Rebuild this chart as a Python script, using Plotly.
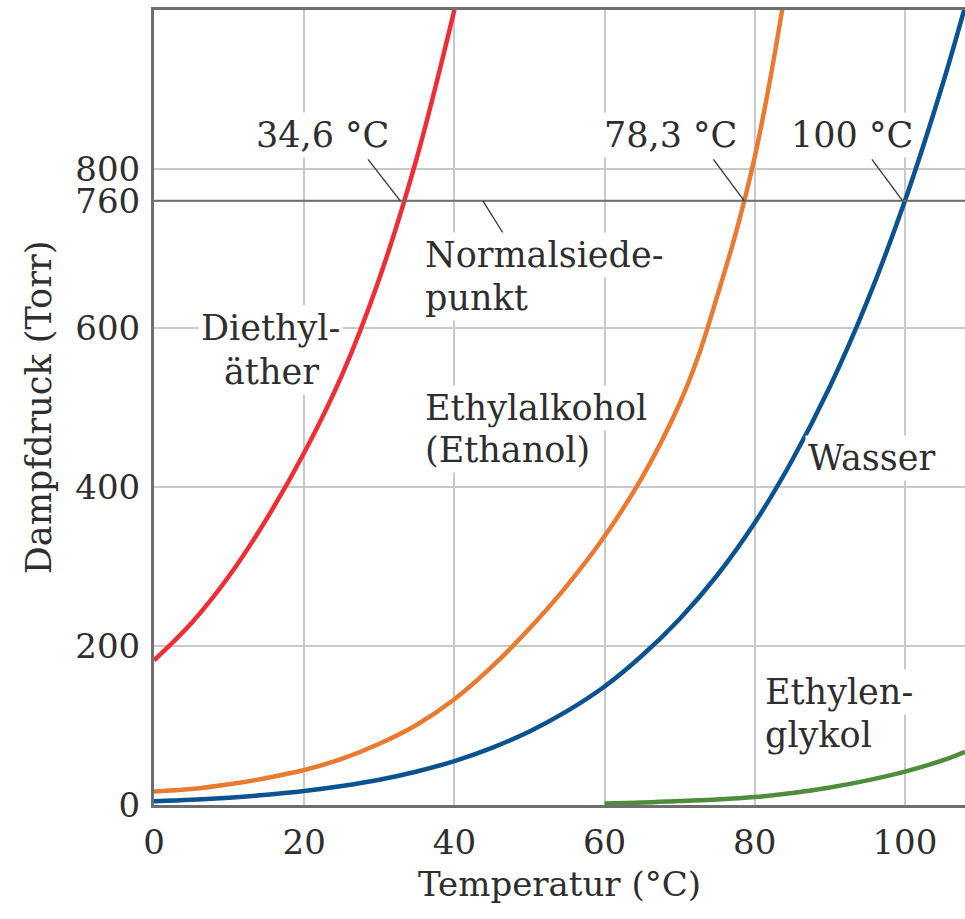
import plotly.graph_objects as go

# --- data ---
ether_T = [0, 5, 10, 15, 20, 25, 30, 35, 40]
ether_P = [182, 229, 288, 360, 443, 540, 662, 814, 1000]

ethanol_T = [0, 5, 10, 15, 20, 25, 30, 35, 40, 45, 50, 55, 60, 65, 70, 72.5, 75, 77.5, 80, 82, 84]
ethanol_P = [17, 20, 26, 34, 44, 58, 77, 101, 133, 174, 222, 276, 338, 412, 505, 565, 640, 720, 815, 910, 1020]

water_T = [0, 5, 10, 15, 20, 25, 30, 35, 40, 45, 50, 55, 60, 65, 70, 75, 80, 85, 90, 95, 100, 105, 108]
water_P = [4.6, 6.5, 9.2, 12.8, 17.5, 23.8, 31.8, 42.2, 55.3, 71.9, 92.5, 118, 149, 188, 234, 289,
           355, 434, 526, 634, 760, 906, 1004]

glycol_T = [60, 65, 70, 75, 80, 85, 90, 95, 100, 105, 108]
glycol_P = [2, 3, 5, 7, 10, 15, 22, 31, 42, 56, 67]

x_ticks = [0, 20, 40, 60, 80, 100]
y_ticks = [0, 200, 400, 600, 760, 800]
boil_line_P = 760

FONT = "DejaVu Serif"
TXT = "#2e2e2e"
FRAME = "#6e6e6e"
GRID = "#c9c9c9"

fig = go.Figure()
series = [
    (ether_T, ether_P, "#ee2d35"),
    (ethanol_T, ethanol_P, "#ea7a32"),
    (water_T, water_P, "#0b5290"),
    (glycol_T, glycol_P, "#4d8d3b"),
]
for t, p, c in series:
    fig.add_trace(go.Scatter(x=t, y=p, mode="lines",
                             line=dict(color=c, width=4.5, shape="spline", smoothing=1.0),
                             hoverinfo="skip", showlegend=False))

# 760 Torr line
fig.add_shape(type="line", xref="paper", x0=0, x1=1, yref="y", y0=boil_line_P, y1=boil_line_P,
              line=dict(color=FRAME, width=2), layer="above")

# leader lines
leaders = [
    (28.5, 812, 32.8, 760),
    (74.5, 812, 78.6, 760),
    (95.6, 812, 99.7, 760),
    (43.8, 760, 46.7, 716),
]
for x0, y0, x1, y1 in leaders:
    fig.add_shape(type="line", x0=x0, y0=y0, x1=x1, y1=y1,
                  line=dict(color="#333333", width=1.3), layer="above")

def ann(text, x, y, xanchor="center", size=35):
    fig.add_annotation(x=x, y=y, text=text, showarrow=False, xanchor=xanchor, yanchor="middle",
                       bgcolor="white", borderpad=2,
                       font=dict(family=FONT, size=size, color=TXT))

ann("34,6 °C", 22.4, 843)
ann("78,3 °C", 68.8, 843)
ann("100 °C", 92.9, 843)
ann("Normalsiede-", 35.7, 692, "left")
ann("punkt", 35.7, 638, "left")
ann("Diethyl-", 15.45, 600)
ann("äther", 15.7, 545)
ann("Ethylalkohol", 35.7, 499, "left")
ann("(Ethanol)", 35.7, 446.5, "left")
ann("Wasser", 86.7, 436.5, "left")
ann("Ethylen-", 81.0, 142, "left")
ann("glykol", 81.0, 88, "left")

fig.update_layout(
    width=965, height=919,
    margin=dict(l=154, r=0, t=10, b=114),
    paper_bgcolor="white", plot_bgcolor="white",
    font=dict(family=FONT, size=34, color=TXT),
    xaxis=dict(range=[0, 108], tickvals=x_ticks, ticktext=[str(v) for v in x_ticks],
               showgrid=True, gridcolor=GRID, gridwidth=1.5, zeroline=False,
               showline=True, linecolor=FRAME, linewidth=3, mirror=True,
               ticks="outside", ticklen=5, tickcolor="rgba(0,0,0,0)",
               tickfont=dict(family=FONT, size=34, color=TXT),
               title=dict(text="Temperatur (°C)", font=dict(family=FONT, size=34, color=TXT), standoff=12)),
    yaxis=dict(range=[0, 1000], tickvals=y_ticks, ticktext=[str(v) for v in y_ticks],
               showgrid=True, gridcolor=GRID, gridwidth=1.5, zeroline=False,
               showline=True, linecolor=FRAME, linewidth=3, mirror=False,
               ticks="outside", ticklen=4, tickcolor="rgba(0,0,0,0)",
               tickfont=dict(family=FONT, size=34, color=TXT),
               title=dict(text="Dampfdruck (Torr)", font=dict(family=FONT, size=35, color=TXT), standoff=14)),
)

fig.write_html("out.html")
